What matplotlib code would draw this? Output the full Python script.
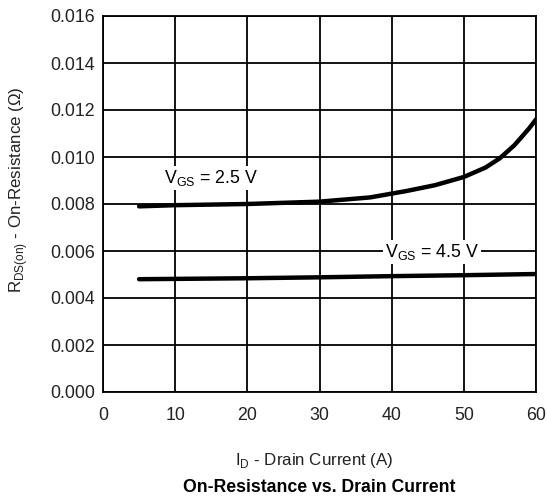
import matplotlib
matplotlib.use("Agg")
import matplotlib.pyplot as plt

plt.rcParams['font.family'] = ['Liberation Sans', 'DejaVu Sans']
plt.rcParams['mathtext.fontset'] = 'custom'
plt.rcParams['mathtext.rm'] = 'Liberation Sans'

# Data
id_25 = [5, 10, 20, 30, 37, 42, 46, 50, 53, 55, 57, 59, 60]
rds_25 = [0.0079, 0.00795, 0.00800, 0.00810, 0.00828, 0.00855, 0.00880, 0.00915, 0.00955, 0.00995, 0.01050, 0.01120, 0.01160]
id_45 = [5, 20, 30, 40, 50, 60]
rds_45 = [0.00480, 0.00484, 0.00488, 0.00493, 0.00497, 0.00502]

xticks = [0, 10, 20, 30, 40, 50, 60]
yticks = [0.000, 0.002, 0.004, 0.006, 0.008, 0.010, 0.012, 0.014, 0.016]
ytick_labels = ["0.000", "0.002", "0.004", "0.006", "0.008", "0.010", "0.012", "0.014", "0.016"]

label_25 = "V$_{\\mathregular{GS}}$ = 2.5 V"
label_45 = "V$_{\\mathregular{GS}}$ = 4.5 V"

fig = plt.figure(figsize=(5.47, 4.97), dpi=100)
ax = fig.add_axes([103/547, 1-392/497, (536-103)/547, (392-16)/497])

ax.set_xlim(0, 60)
ax.set_ylim(0, 0.016)
ax.set_xticks(xticks)
ax.set_yticks(yticks)
ax.set_yticklabels(ytick_labels)
ax.grid(True, color='black', linewidth=1.3)
for s in ax.spines.values():
    s.set_linewidth(1.3)
ax.tick_params(length=0, labelsize=12.8, colors='#222222')
ax.tick_params(axis='x', pad=11)
ax.tick_params(axis='y', pad=6)

ax.plot(id_25, rds_25, color='black', linewidth=3.2, solid_capstyle='round', zorder=3)
ax.plot(id_45, rds_45, color='black', linewidth=3.2, solid_capstyle='round', zorder=3)

bbox = dict(facecolor='white', edgecolor='none', pad=1.5)
ax.text(15.0, 0.0091, label_25, ha='center', va='center', fontsize=12.8, bbox=bbox, zorder=4)
ax.text(45.6, 0.00597, label_45, ha='center', va='center', fontsize=12.8, bbox=bbox, zorder=4)

fig.text(0.033, 1-190/497, "R$_{\\mathregular{DS(on)}}$ - On-Resistance (\u03a9)",
         rotation=90, ha='center', va='center', fontsize=12.2, color='#222222')
fig.text(314/547, 1-460/497, "I$_{\\mathregular{D}}$ - Drain Current (A)", ha='center', va='center',
         fontsize=12.2, color='#222222')
fig.text(319/547, 1-488/497, "On-Resistance vs. Drain Current", ha='center', va='center',
         fontsize=12.7, fontweight='bold', color='black')

fig.savefig("out.png", dpi=100)
